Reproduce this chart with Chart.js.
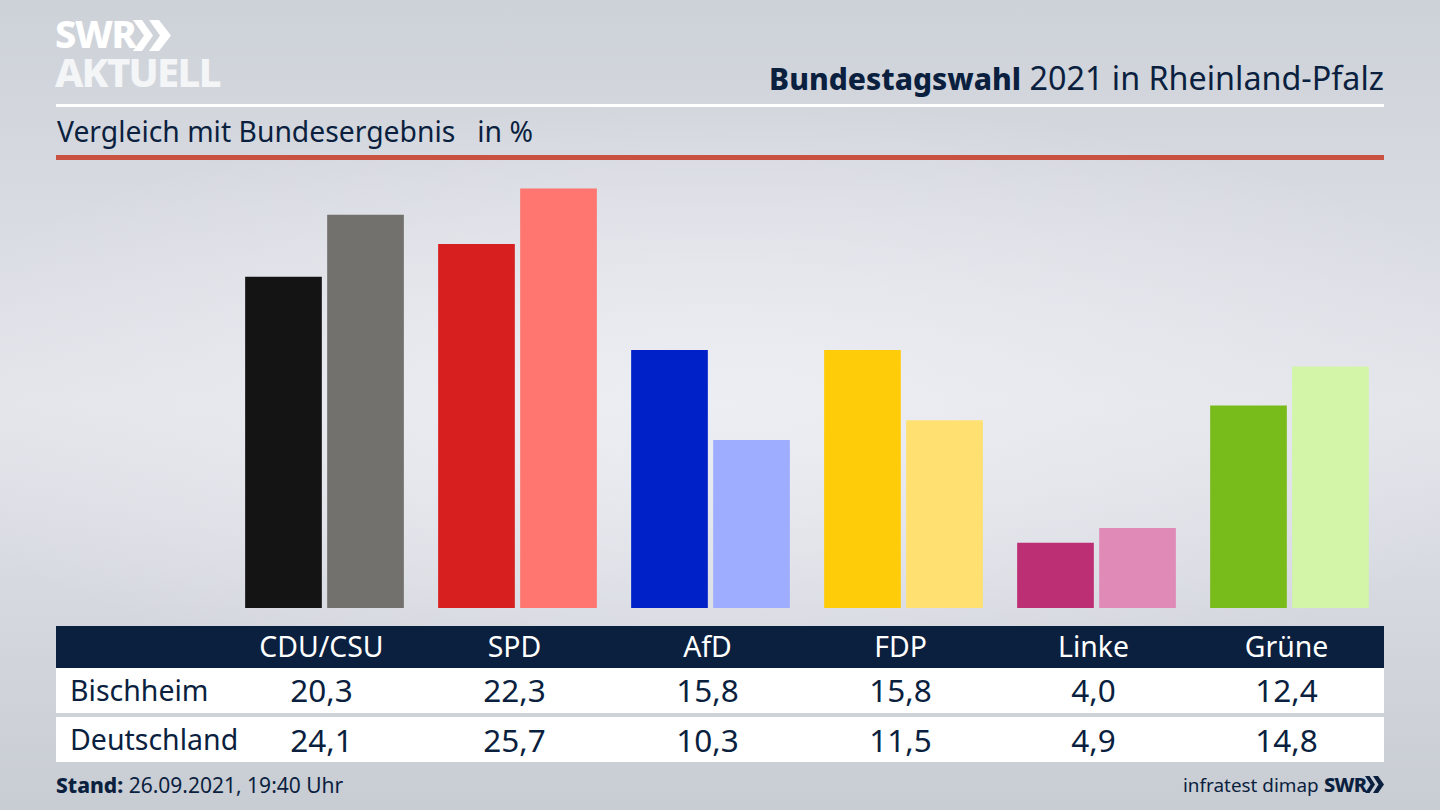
<!DOCTYPE html>
<html lang="de">
<head>
<meta charset="utf-8">
<title>Bundestagswahl 2021 in Rheinland-Pfalz</title>
<script src="https://cdn.jsdelivr.net/npm/chart.js@4"></script>
<style>
    html, body { margin: 0; padding: 0; }
    body {
        position: relative;
        width: 1440px;
        height: 810px;
        overflow: hidden;
        font-family: "Noto Sans", sans-serif;
        color: #0b1f3f;
        background:
            radial-gradient(ellipse 850px 300px at 720px 400px, rgba(238,239,245,0.9), rgba(238,239,245,0)),
            linear-gradient(180deg, #cdd1d8 0%, #e2e4ea 50%, #c8ccd3 100%);
    }
    .abs { position: absolute; white-space: nowrap; }
    #logo1, #logo2 { left: 55px; color: #fff; font-weight: 800; line-height: 1; }
    #logo1 { top: 14px; font-size: 38px; letter-spacing: -1.5px; }
    #logo2 { top: 52px; font-size: 40px; letter-spacing: -1.7px; color: #f4f5f7; }
    #title { right: 56px; top: 57px; font-size: 32.3px; line-height: 40px; }
    #title b { font-weight: 800; font-size: 30px; }
    #rule1 { left: 56px; top: 104px; width: 1328px; height: 3px; background: #fff; }
    #subtitle { left: 57px; top: 112px; font-size: 28.3px; line-height: 38px; }
    #rule2 { left: 56px; top: 155px; width: 1328px; height: 5px; background: #c8523f; }
    #chartBox { position: absolute; left: 228px; top: 151px; width: 1158px; height: 457px; }
    .row {
        position: absolute;
        left: 56px;
        width: 1328px;
        box-sizing: border-box;
        display: grid;
        grid-template-columns: 169px repeat(6, 193px);
        align-items: center;
        background: #fff;
    }
    .row div { text-align: center; }
    .row div:first-child { text-align: left; padding-left: 14px; font-size: 28.5px; }
    .row .val { font-size: 31.5px; }
    #head { top: 626px; height: 42px; padding-bottom: 3px; background: #0b1f3f; color: #fff; font-size: 28.4px; }
    #row0 { top: 668px; height: 45px; padding-bottom: 2px; }
    #row1 { top: 717px; height: 45px; padding-bottom: 1px; }
    #stand { left: 56px; top: 770px; font-size: 21px; line-height: 30px; }
    #stand b { font-weight: 800; }
    #source { left: 1183px; top: 770px; font-size: 18.9px; line-height: 30px; }
    #swr2 { left: 1324px; top: 772px; font-size: 20px; line-height: 26px; font-weight: 800; letter-spacing: -0.8px; }
</style>
</head>
<body>
<div class="abs" id="logo1">SWR</div>
<svg class="abs" style="left:133px;top:20px" width="38" height="31" viewBox="0 0 38 31">
    <path d="M0 0h9l11 15.5L9 31H0l11-15.5zM16 0h10l12 15.5L26 31H16l11-15.5z" fill="#fff"/>
</svg>
<div class="abs" id="logo2">AKTUELL</div>
<div class="abs" id="title"><b>Bundestagswahl</b> 2021 in Rheinland-Pfalz</div>
<div class="abs" id="rule1"></div>
<div class="abs" id="subtitle">Vergleich mit Bundesergebnis &nbsp; in %</div>
<div class="abs" id="rule2"></div>

<div id="chartBox"><canvas id="chart" width="1158" height="457"></canvas></div>

<div class="row" id="head"></div>
<div class="row" id="row0"></div>
<div class="row" id="row1"></div>

<div class="abs" id="stand"><b>Stand:</b> 26.09.2021, 19:40 Uhr</div>
<div class="abs" id="source">infratest dimap</div>
<div class="abs" id="swr2">SWR</div>
<svg class="abs" style="left:1365px;top:776px" width="19" height="17" viewBox="0 0 38 31" preserveAspectRatio="none">
    <path d="M0 0h9l11 15.5L9 31H0l11-15.5zM16 0h10l12 15.5L26 31H16l11-15.5z" fill="#0b1f3f"/>
</svg>

<script>
    const parties = ['CDU/CSU', 'SPD', 'AfD', 'FDP', 'Linke', 'Grüne'];
    const bischheim = [20.3, 22.3, 15.8, 15.8, 4.0, 12.4];
    const deutschland = [24.1, 25.7, 10.3, 11.5, 4.9, 14.8];
    const bischheimColors = ['#141414', '#d71f1f', '#0021c8', '#ffcc0a', '#bc2f74', '#78bc1c'];
    const deutschlandColors = ['#72716e', '#ff7570', '#9eadff', '#ffe071', '#e08ab8', '#d2f5a8'];

    // German decimal comma for the table
    const fmt = (v) => v.toFixed(1).replace('.', ',');

    function fillRow(id, label, cells, cls) {
        const row = document.getElementById(id);
        [label, ...cells].forEach((text, i) => {
            const cell = document.createElement('div');
            cell.textContent = text;
            if (i > 0 && cls) cell.className = cls;
            row.appendChild(cell);
        });
    }

    fillRow('head', '', parties);
    fillRow('row0', 'Bischheim', bischheim.map(fmt), 'val');
    fillRow('row1', 'Deutschland', deutschland.map(fmt), 'val');

    new Chart(document.getElementById('chart').getContext('2d'), {
        type: 'bar',
        data: {
            labels: parties,
            datasets: [
                { label: 'Bischheim', data: bischheim, backgroundColor: bischheimColors },
                { label: 'Deutschland', data: deutschland, backgroundColor: deutschlandColors },
            ],
        },
        options: {
            responsive: false,
            animation: false,
            devicePixelRatio: 1,
            categoryPercentage: 0.85,
            barPercentage: 0.935,
            layout: { padding: 0 },
            plugins: { legend: { display: false }, tooltip: { enabled: false } },
            scales: {
                x: { display: false },
                y: { display: false, min: 0, max: 28 },
            },
        },
    });
</script>
</body>
</html>
